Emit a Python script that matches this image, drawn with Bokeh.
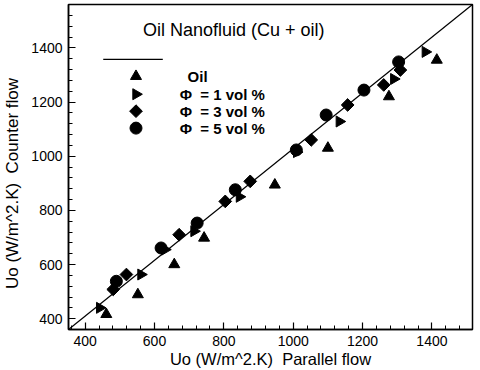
from bokeh.plotting import figure
from bokeh.models import Range1d, SingleIntervalTicker, Label
from bokeh.embed import file_html
from bokeh.resources import INLINE
import math

# ---- data ----
oil_x = [461, 552, 657, 743, 947, 1100, 1276, 1414]
oil_y = [416, 489, 600, 698, 894, 1030, 1220, 1355]

phi1_x = [442, 561, 630, 714, 845, 1010, 1133, 1290, 1381]
phi1_y = [440, 563, 655, 723, 850, 1015, 1128, 1285, 1385]

phi3_x = [481, 519, 671, 804, 876, 1052, 1157, 1261, 1309]
phi3_y = [508, 563, 710, 833, 907, 1060, 1189, 1263, 1318]

phi5_x = [490, 619, 723, 833, 1009, 1095, 1204, 1304]
phi5_y = [538, 661, 753, 876, 1023, 1152, 1244, 1348]

diag_x = [352, 1517]
diag_y = [360, 1560]

tick_interval = 200
title_text = "Oil Nanofluid (Cu + oil)"
x_title = "Uo (W/m^2.K)\u00a0 Parallel flow"
y_title = "Uo (W/m^2.K)\u00a0 Counter flow" + "\u00a0" * 7
labels = ["Oil", "\u03a6\u00a0\u00a0= 1 vol %", "\u03a6\u00a0\u00a0= 3 vol %", "\u03a6\u00a0\u00a0= 5 vol %"]

FONT = "Liberation Sans"

# frame geometry in pixels (used only to place the in-plot legend / title)
FW, FH = 407, 326
X0, X1 = diag_x
Y0, Y1 = diag_y


def fx(dx):
    return X0 + dx / FW * (X1 - X0)


def fy(dy):
    return Y1 - dy / FH * (Y1 - Y0)


p = figure(width=480, height=370, output_backend="svg", toolbar_location=None,
           x_range=Range1d(X0, X1), y_range=Range1d(Y0, Y1),
           min_border_top=4, min_border_right=8, min_border_left=65, min_border_bottom=40)
p.grid.visible = False
p.background_fill_color = "white"
p.border_fill_color = "white"
p.outline_line_color = "black"
p.outline_line_width = 1.5

for ax in (p.xaxis[0], p.yaxis[0]):
    ax.ticker = SingleIntervalTicker(interval=tick_interval, num_minor_ticks=5)
    ax.major_tick_in = 7
    ax.major_tick_out = 0
    ax.minor_tick_in = 4
    ax.minor_tick_out = 0
    ax.axis_line_width = 1.5
    ax.axis_line_color = "black"
    ax.major_tick_line_color = "black"
    ax.minor_tick_line_color = "black"
    ax.major_tick_line_width = 1.2
    ax.major_label_text_font = FONT
    ax.major_label_text_font_size = "14px"
    ax.major_label_text_color = "black"
    ax.major_label_standoff = 6
    ax.axis_label_text_font = FONT
    ax.axis_label_text_font_style = "normal"
    ax.axis_label_text_color = "black"

p.xaxis.axis_label = x_title
p.yaxis.axis_label = y_title
p.xaxis.axis_label_text_font_size = "16.5px"
p.yaxis.axis_label_text_font_size = "17px"
p.xaxis.axis_label_standoff = 1
p.yaxis.axis_label_standoff = 6

p.line(diag_x, diag_y, line_color="black", line_width=1.2)


def draw_oil(xs, ys):
    p.scatter(xs, ys, marker="triangle", size=11, fill_color="black", line_color="black")


def draw_phi1(xs, ys):
    p.scatter(xs, ys, marker="triangle", angle=-math.pi / 2, size=11,
              fill_color="black", line_color="black")


def draw_phi3(xs, ys):
    p.scatter(xs, ys, marker="square", angle=math.pi / 4, size=9,
              fill_color="black", line_color="black")


def draw_phi5(xs, ys):
    p.scatter(xs, ys, marker="circle", size=12, fill_color="black", line_color="black")


draw_oil(oil_x, oil_y)
draw_phi1(phi1_x, phi1_y)
draw_phi3(phi3_x, phi3_y)
draw_phi5(phi5_x, phi5_y)

# ---- legend (drawn by hand so the keys match the marks) ----
p.line([fx(35), fx(95)], [fy(55), fy(55)], line_color="black", line_width=1.2)
key_dy = [72, 90, 107, 124]
drawers = [draw_oil, draw_phi1, draw_phi3, draw_phi5]
label_dx = [120, 112, 112, 112]
for dy, draw, ldx, txt in zip(key_dy, drawers, label_dx, labels):
    draw([fx(68)], [fy(dy)])
    p.add_layout(Label(x=fx(ldx), y=fy(dy), text=txt, text_font=FONT, text_font_size="15px",
                       text_font_style="bold", text_baseline="middle", text_color="black"))

p.add_layout(Label(x=fx(75), y=fy(26), text=title_text, text_font=FONT, text_font_size="18px",
                   text_baseline="middle", text_color="black"))

open("out.html", "w").write(file_html(p, INLINE))
